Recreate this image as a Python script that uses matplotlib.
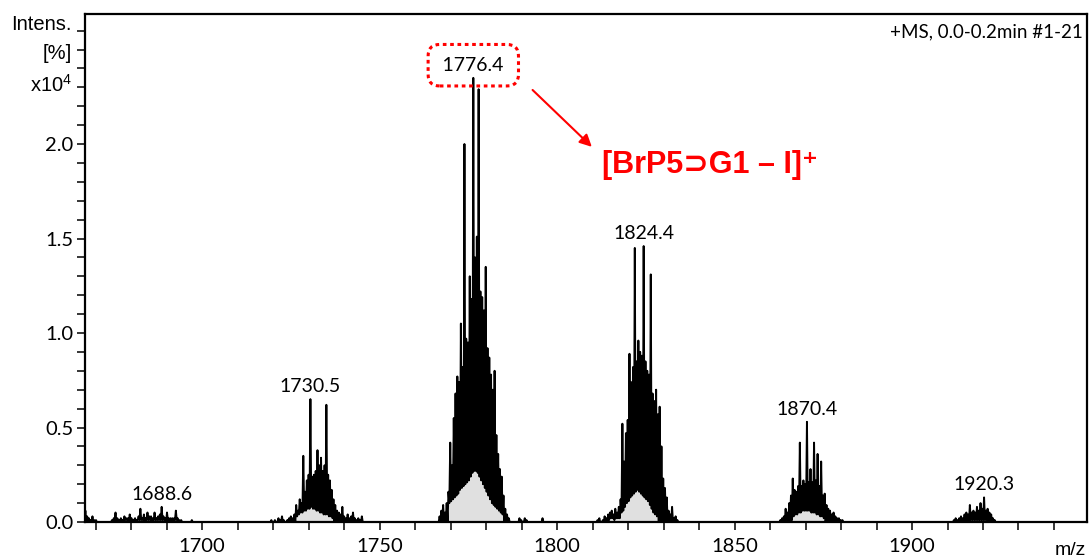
import numpy as np
import matplotlib.pyplot as plt
from matplotlib.ticker import MultipleLocator, FormatStrFormatter

plt.rcParams['font.family'] = ['Lato', 'DejaVu Sans']
plt.rcParams['mathtext.fontset'] = 'custom'
plt.rcParams['mathtext.rm'] = 'Liberation Sans'
plt.rcParams['mathtext.default'] = 'rm'

# spectrum clusters: first m/z, peak tops every 0.5 m/z, valleys half way between
STEP = 0.5

start_1688 = 1667.1
tops_1688 = [0.06, 0.03, 0.02, 0.01, 0.03, 0.01, 0.01, 0.00, 0.00, 0.00,
             0.00, 0.00, 0.00, 0.00, 0.00, 0.01, 0.02, 0.05, 0.02, 0.01,
             0.02, 0.01, 0.03, 0.02, 0.02, 0.04, 0.02, 0.01, 0.02, 0.01,
             0.03, 0.07, 0.02, 0.04, 0.02, 0.05, 0.03, 0.03, 0.02, 0.05,
             0.02, 0.03, 0.04, 0.08, 0.03, 0.02, 0.05, 0.02, 0.02, 0.02,
             0.02, 0.06, 0.02, 0.01, 0.01, 0.00, 0.00, 0.00, 0.00, 0.00,
             0.01, 0.00, 0.00]
valleys_1688 = [0.00, 0.01, 0.00, 0.00, 0.00, 0.00, 0.00, 0.00, 0.00, 0.00,
                0.00, 0.00, 0.00, 0.00, 0.00, 0.00, 0.01, 0.00, 0.01, 0.00,
                0.01, 0.00, 0.01, 0.01, 0.00, 0.01, 0.00, 0.01, 0.00, 0.01,
                0.01, 0.01, 0.01, 0.00, 0.01, 0.01, 0.01, 0.00, 0.01, 0.01,
                0.01, 0.01, 0.01, 0.01, 0.01, 0.00, 0.01, 0.00, 0.01, 0.00,
                0.01, 0.01, 0.00, 0.00, 0.00, 0.00, 0.00, 0.00, 0.00, 0.00,
                0.00, 0.00, 0.00]

start_1730 = 1719.5
tops_1730 = [0.01, 0.00, 0.01, 0.00, 0.02, 0.01, 0.03, 0.01, 0.00, 0.01,
             0.02, 0.03, 0.02, 0.04, 0.09, 0.06, 0.12, 0.10, 0.35, 0.16,
             0.22, 0.25, 0.65, 0.24, 0.25, 0.27, 0.38, 0.30, 0.34, 0.27,
             0.30, 0.62, 0.25, 0.22, 0.17, 0.12, 0.09, 0.06, 0.05, 0.04,
             0.08, 0.03, 0.02, 0.04, 0.02, 0.03, 0.05, 0.02, 0.01, 0.02,
             0.01, 0.03]
valleys_1730 = [0.00, 0.00, 0.00, 0.00, 0.00, 0.00, 0.00, 0.00, 0.00, 0.00,
                0.00, 0.00, 0.00, 0.00, 0.03, 0.04, 0.05, 0.05, 0.06, 0.06,
                0.07, 0.07, 0.08, 0.07, 0.07, 0.06, 0.06, 0.05, 0.05, 0.04,
                0.04, 0.04, 0.03, 0.03, 0.02, 0.00, 0.00, 0.00, 0.00, 0.00,
                0.00, 0.00, 0.00, 0.00, 0.00, 0.00, 0.00, 0.00, 0.00, 0.00,
                0.00, 0.00]

start_1776 = 1766.9
tops_1776 = [0.03, 0.06, 0.09, 0.05, 0.10, 0.16, 0.42, 0.30, 0.55, 0.68,
             0.77, 0.74, 1.05, 0.82, 2.00, 0.97, 0.95, 1.30, 1.18, 2.35,
             1.40, 1.51, 2.29, 1.22, 1.19, 1.12, 1.35, 0.92, 0.87, 0.78,
             0.70, 0.80, 0.46, 0.36, 0.28, 0.24, 0.14, 0.07, 0.04, 0.02]
valleys_1776 = [0.00, 0.01, 0.00, 0.01, 0.00, 0.10, 0.11, 0.12, 0.13, 0.14,
                0.15, 0.17, 0.18, 0.19, 0.20, 0.21, 0.22, 0.24, 0.26, 0.27,
                0.27, 0.26, 0.24, 0.22, 0.20, 0.18, 0.16, 0.14, 0.12, 0.10,
                0.09, 0.08, 0.07, 0.06, 0.05, 0.04, 0.00, 0.00, 0.00, 0.00]

start_1790 = 1788.9
tops_1790 = [0.00, 0.02, 0.01, 0.00, 0.02, 0.01, 0.00, 0.00,
             0.00, 0.00, 0.00, 0.00, 0.00, 0.00, 0.02, 0.00]
valleys_1790 = [0.00, 0.00, 0.00, 0.00, 0.00, 0.00, 0.00, 0.00,
                0.00, 0.00, 0.00, 0.00, 0.00, 0.00, 0.00, 0.00]

start_1824 = 1810.9
tops_1824 = [0.00, 0.01, 0.02, 0.00, 0.01, 0.03, 0.02, 0.04, 0.05, 0.06,
             0.04, 0.07, 0.05, 0.08, 0.12, 0.52, 0.32, 0.47, 0.54, 0.89,
             0.74, 0.82, 1.45, 0.85, 0.96, 0.90, 0.88, 1.46, 0.85, 0.80,
             0.78, 1.31, 0.68, 0.64, 0.70, 0.57, 0.61, 0.40, 0.23, 0.18,
             0.13, 0.06, 0.04, 0.08, 0.02, 0.03, 0.01]
valleys_1824 = [0.00, 0.00, 0.00, 0.00, 0.00, 0.01, 0.00, 0.01, 0.02, 0.02,
                0.01, 0.02, 0.02, 0.02, 0.05, 0.06, 0.08, 0.10, 0.11, 0.13,
                0.14, 0.15, 0.16, 0.17, 0.16, 0.15, 0.14, 0.13, 0.12, 0.11,
                0.09, 0.07, 0.05, 0.04, 0.03, 0.00, 0.00, 0.00, 0.00, 0.00,
                0.00, 0.00, 0.00, 0.00, 0.00, 0.00, 0.00]

start_1870 = 1862.4
tops_1870 = [0.00, 0.01, 0.02, 0.03, 0.07, 0.05, 0.10, 0.14, 0.23, 0.17,
             0.16, 0.19, 0.42, 0.19, 0.22, 0.20, 0.53, 0.21, 0.28, 0.21,
             0.42, 0.22, 0.36, 0.19, 0.32, 0.14, 0.15, 0.09, 0.07, 0.06,
             0.04, 0.05, 0.03, 0.02, 0.02, 0.01, 0.01, 0.00]
valleys_1870 = [0.00, 0.00, 0.00, 0.00, 0.01, 0.00, 0.01, 0.01, 0.03, 0.04,
                0.04, 0.05, 0.05, 0.06, 0.06, 0.06, 0.06, 0.06, 0.05, 0.05,
                0.05, 0.04, 0.04, 0.03, 0.03, 0.02, 0.00, 0.00, 0.00, 0.00,
                0.00, 0.00, 0.00, 0.00, 0.00, 0.00, 0.00, 0.00]

start_1920 = 1911.3
tops_1920 = [0.00, 0.01, 0.02, 0.01, 0.02, 0.03, 0.02, 0.04, 0.05, 0.04,
             0.09, 0.05, 0.06, 0.05, 0.08, 0.06, 0.10, 0.07, 0.13, 0.06,
             0.07, 0.05, 0.04, 0.02, 0.01, 0.00]
valleys_1920 = [0.00, 0.00, 0.00, 0.00, 0.00, 0.00, 0.00, 0.00, 0.01, 0.00,
                0.01, 0.01, 0.01, 0.01, 0.01, 0.01, 0.01, 0.01, 0.01, 0.01,
                0.00, 0.00, 0.00, 0.00, 0.00, 0.00]

peak_labels = [1688.6, 1730.5, 1776.4, 1824.4, 1870.4, 1920.3]

clusters = [
    (start_1688, tops_1688, valleys_1688),
    (start_1730, tops_1730, valleys_1730),
    (start_1776, tops_1776, valleys_1776),
    (start_1790, tops_1790, valleys_1790),
    (start_1824, tops_1824, valleys_1824),
    (start_1870, tops_1870, valleys_1870),
    (start_1920, tops_1920, valleys_1920),
]

# stitch the clusters into one profile, back to zero between them
xs, ys = [[1660.0]], [[0.0]]
for start, tops, valleys in clusters:
    assert len(tops) == len(valleys)
    mz = start + STEP * np.arange(len(tops))
    xs.append([start - STEP / 2])
    ys.append([0.0])
    xs.append(np.column_stack([mz, mz + STEP / 2]).ravel())
    ys.append(np.column_stack([tops, valleys]).ravel())
    xs.append([mz[-1] + STEP])
    ys.append([0.0])
xs.append([1960.0])
ys.append([0.0])
mz_all = np.concatenate(xs)
inten = np.concatenate(ys)

fig = plt.figure(figsize=(10.92, 5.59), dpi=100)
ax = fig.add_axes([85 / 1092, 1 - 522 / 559, 1002 / 1092, 508 / 559])

ax.fill_between(mz_all, inten, 0, color='#e0e0e0', lw=0, zorder=1)
ax.plot(mz_all, inten, color='black', lw=1.4, zorder=2)

ax.set_xlim(1667.0, 1949.3)
ax.set_ylim(0, 2.688)
ax.xaxis.set_major_locator(MultipleLocator(50))
ax.xaxis.set_minor_locator(MultipleLocator(10))
ax.yaxis.set_major_locator(MultipleLocator(0.5))
ax.yaxis.set_minor_locator(MultipleLocator(0.1))
ax.yaxis.set_major_formatter(FormatStrFormatter('%.1f'))
ax.tick_params(which='both', direction='out', length=5.5, width=1.1,
               labelsize=14.5)
ax.tick_params(axis='x', pad=6)
ax.tick_params(axis='y', pad=3)
for lab in ax.get_yticklabels():
    if lab.get_text() == '2.5':
        lab.set_visible(False)
for sp in ax.spines.values():
    sp.set_linewidth(1.6)

# peak labels sit on top of the tallest line of each cluster
for m in peak_labels:
    i = np.argmin(np.abs(mz_all - m))
    h = inten[i]
    if m == 1776.4:
        ax.annotate('\u2009%.1f\u2009' % m, (m, h), xytext=(0, 3),
                    textcoords='offset points', ha='center', va='bottom',
                    fontsize=14, zorder=3,
                    bbox=dict(boxstyle='round,pad=0.63,rounding_size=0.6', fc='none',
                              ec='red', lw=2.2, ls=(0, (1.2, 1.2))))
    else:
        ax.annotate('%.1f' % m, (m, h), xytext=(0, 3), textcoords='offset points',
                    ha='center', va='bottom', fontsize=14, zorder=3)

ax.annotate('', xy=(1809.8, 1.985), xytext=(1793.1, 2.286),
            arrowprops=dict(arrowstyle='-|>', color='red', lw=1.5,
                            mutation_scale=18, shrinkA=0, shrinkB=0))
ax.text(1812.7, 1.845, '[BrP5⊃G1 – I]⁺', color='red', fontsize=22,
        fontweight='bold', family=['Liberation Sans', 'DejaVu Sans'],
        ha='left', va='baseline')

ax.text(0.996, 0.9547, '+MS, 0.0-0.2min #1-21', transform=ax.transAxes,
        ha='right', va='baseline', fontsize=13.5)

arial = ['Liberation Sans', 'DejaVu Sans']
fig.text(72 / 1092, 1 - 30 / 559, 'Intens.', ha='right', va='baseline',
         fontsize=14.5, family=arial)
fig.text(72 / 1092, 1 - 59 / 559, '[%]', ha='right', va='baseline',
         fontsize=14.5, family=arial)
fig.text(72 / 1092, 1 - 92 / 559, r'x10$^{4}$', ha='right', va='baseline',
         fontsize=14.5, family=arial)
fig.text(1070 / 1092, 1 - 555 / 559, 'm/z', ha='center', va='baseline',
         fontsize=14, family=arial)

fig.savefig('out.png', dpi=100)
